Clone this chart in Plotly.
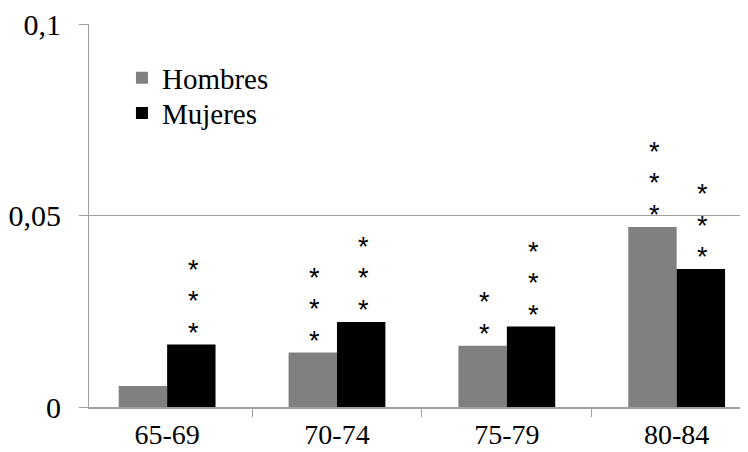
import plotly.graph_objects as go

categories = ["65-69", "70-74", "75-79", "80-84"]
hombres = [0.0055, 0.0142, 0.0160, 0.0470]
mujeres = [0.0163, 0.0222, 0.0210, 0.0360]
stars_hombres = [0, 3, 2, 3]
stars_mujeres = [3, 3, 3, 3]
y_tickvals = [0, 0.05, 0.1]
y_ticktext = ["0", "0,05", "0,1"]

GRAY = "#808080"
AXIS = "#a0a0a0"
SERIF = "Liberation Serif"

fig = go.Figure()
fig.add_trace(go.Bar(name="Hombres", x=categories, y=hombres, legend="legend",
                     marker=dict(color=GRAY, line=dict(width=0))))
fig.add_trace(go.Bar(name="Mujeres", x=categories, y=mujeres, legend="legend2",
                     marker=dict(color="#000000", line=dict(width=0))))

bargap = 0.43
half = (1 - bargap) / 4
annotations = []
for i, cat in enumerate(categories):
    for vals, stars, off in ((hombres, stars_hombres, -half), (mujeres, stars_mujeres, half)):
        for k in range(stars[i]):
            annotations.append(dict(
                x=i + off, y=vals[i], xref="x", yref="y", text="*",
                showarrow=False, yanchor="middle", xanchor="center",
                yshift=12 + 31.5 * k, xshift=2,
                font=dict(family="Liberation Sans", size=27, color="#000000")))

legend_common = dict(x=0.050, xanchor="left", yanchor="middle",
                     bgcolor="rgba(0,0,0,0)", font=dict(family=SERIF, size=29, color="#000000"),
                     itemwidth=30)

fig.update_layout(
    width=740, height=444,
    margin=dict(l=81, r=0, t=16, b=45, autoexpand=False),
    paper_bgcolor="white", plot_bgcolor="white",
    barmode="group", bargap=bargap, bargroupgap=0,
    font=dict(family=SERIF, size=30, color="#000000"),
    showlegend=True,
    legend=dict(y=0.859, **legend_common),
    legend2=dict(y=0.767, **legend_common),
    annotations=annotations,
)
fig.update_xaxes(type="category", range=[-0.46, 3.42], showline=True, linecolor=AXIS, linewidth=1.5,
                 ticks="outside", tickson="boundaries", ticklen=8, tickcolor=AXIS, tickwidth=1,
                 showgrid=False, tickfont=dict(family=SERIF, size=28), ticklabelstandoff=2,
                 automargin=False, ticklabeloverflow="allow")
fig.update_yaxes(range=[0, 0.1], tickvals=y_tickvals, ticktext=y_ticktext, showline=True,
                 linecolor=AXIS, linewidth=1, ticks="outside", ticklen=9, tickcolor=AXIS,
                 showgrid=True, gridcolor=AXIS, gridwidth=1, zeroline=False,
                 tickfont=dict(family=SERIF, size=30), ticklabelstandoff=12,
                 automargin=False, ticklabeloverflow="allow")

fig.write_html("out.html")
